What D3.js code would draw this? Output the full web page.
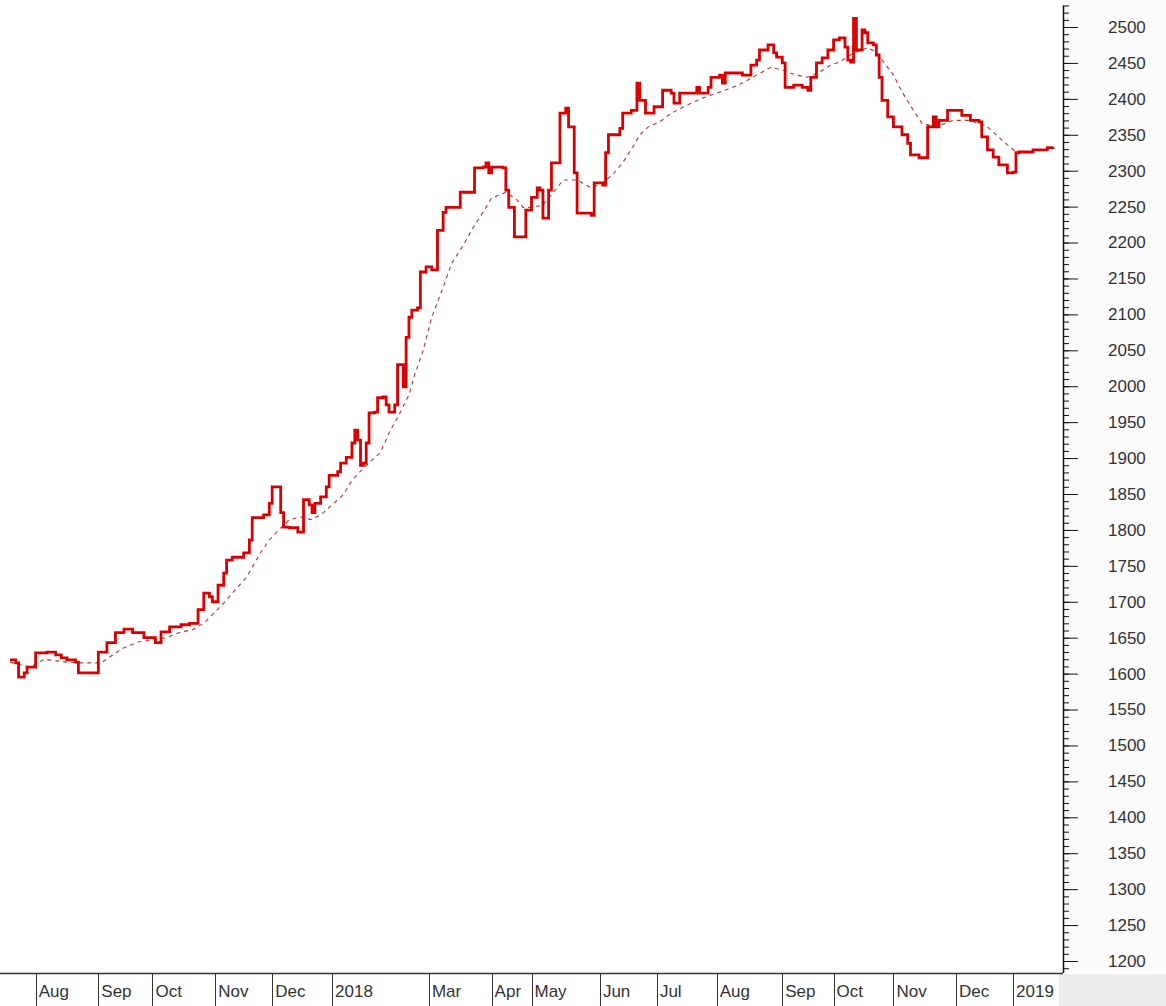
<!DOCTYPE html>
<html>
<head>
<meta charset="utf-8">
<script src="https://cdn.jsdelivr.net/npm/d3@7"></script>
<style>
  html, body { margin: 0; padding: 0; background: #ffffff; }
  svg { display: block; }
</style>
</head>
<body>
<svg id="chart" width="1166" height="1006"></svg>
<script>
// ---- data (trading-day index, value) ----
const priceDays = [0,2,3,5,6,9,13,16,18,20,23,24,29,31,34,37,40,43,47,51,53,56,60,63,66,68,70,71,73,75,76,78,82,84,85,89,91,92,94,95,96,98,101,103,105,106,107,109,111,112,115,116,118,120,121,122,123,124,125,126,128,129,131,132,133,135,136,138,139,140,141,143,144,146,148,150,152,153,158,162,163,166,167,168,169,171,173,174,175,177,180,181,183,185,186,187,188,189,190,192,193,195,196,198,199,204,205,208,209,210,214,215,218,220,221,223,226,229,232,233,235,241,242,245,246,249,250,251,257,260,262,263,266,268,269,271,272,275,278,280,281,283,285,287,289,291,293,294,295,296,297,299,300,301,303,304,305,306,308,310,313,315,316,319,322,324,325,326,329,334,337,340,341,343,345,347,350,352,353,354,359,364,366];
const priceVals = [1619,1615,1595,1601,1609,1629,1630,1626,1622,1619,1616,1601,1601,1630,1643,1657,1662,1657,1650,1643,1658,1665,1668,1670,1689,1712,1707,1700,1723,1740,1758,1762,1768,1786,1817,1821,1837,1860,1860,1824,1804,1803,1797,1842,1835,1824,1837,1846,1860,1876,1881,1893,1901,1921,1939,1925,1890,1893,1921,1963,1964,1984,1985,1974,1964,1974,2030,1999,2068,2096,2106,2109,2159,2166,2162,2217,2242,2249,2270,2270,2304,2305,2311,2297,2305,2305,2304,2273,2249,2208,2208,2245,2263,2276,2273,2234,2234,2273,2311,2311,2380,2387,2361,2297,2241,2238,2283,2280,2325,2350,2359,2380,2384,2422,2398,2380,2389,2412,2408,2394,2408,2416,2408,2416,2430,2433,2422,2436,2433,2447,2454,2468,2475,2464,2458,2450,2416,2419,2416,2412,2430,2450,2457,2468,2482,2485,2472,2454,2451,2512,2468,2496,2492,2478,2475,2461,2430,2398,2375,2361,2350,2338,2322,2318,2361,2375,2361,2370,2384,2377,2370,2368,2347,2329,2319,2308,2297,2298,2325,2326,2329,2332,2333];

const maDays = [0,7,12,20,25,32,36,40,45,50,55,60,64,68,71,75,78,83,86,88,91,95,98,102,106,110,113,117,120,125,130,133,137,140,142,145,148,152,155,159,163,166,169,174,178,180,183,187,189,192,194,199,204,208,212,215,219,221,224,228,232,239,243,248,253,257,262,267,271,276,280,284,288,291,296,301,304,306,310,313,317,320,325,331,337,343,346,350,353];
const maVals = [1616,1609,1620,1616,1615,1615,1626,1636,1644,1647,1650,1658,1661,1670,1682,1698,1712,1734,1755,1769,1786,1803,1814,1818,1814,1824,1835,1849,1869,1890,1908,1935,1964,1988,2016,2050,2096,2138,2171,2196,2224,2242,2262,2270,2259,2249,2249,2252,2262,2276,2287,2287,2276,2283,2297,2311,2336,2350,2361,2368,2380,2394,2401,2408,2415,2422,2433,2444,2440,2433,2430,2437,2447,2451,2464,2471,2465,2454,2433,2410,2384,2366,2361,2370,2370,2361,2350,2336,2326];

const monthLabels = ["Aug","Sep","Oct","Nov","Dec","2018","Mar","Apr","May","Jun","Jul","Aug","Sep","Oct","Nov","Dec","2019"];
const monthStartDays = [9,31,50,72,92,113,147,169,183,207,227,248,271,289,310,332,352];

const yMajorTicks = d3.range(1200, 2501, 50);
const yMinorTicks = d3.range(1190, 2531, 10);

// ---- layout ----
const W = 1166, H = 1006;
const axisX = 1063;
const stripTop = 973;

const svg = d3.select("#chart");

const x = d3.scaleLinear().domain([0, 366]).range([10, 1053]);
const y = d3.scaleLinear().domain([1200, 2500]).range([961, 27]);

// backgrounds
svg.append("rect").attr("x", 0).attr("y", 0).attr("width", W).attr("height", H).attr("fill", "#ffffff");
svg.append("rect").attr("x", axisX).attr("y", 0).attr("width", W - axisX).attr("height", stripTop).attr("fill", "#fbfbfb");

// moving average (dashed)
const maData = maDays.map((d, i) => ({ t: d, v: maVals[i] }));
svg.append("path")
  .datum(maData)
  .attr("fill", "none")
  .attr("stroke", "#b03535")
  .attr("stroke-width", 1.1)
  .attr("stroke-dasharray", "4,4")
  .attr("d", d3.line().x(d => x(d.t)).y(d => y(d.v)).curve(d3.curveLinear));

// price (step line)
const priceData = priceDays.map((d, i) => ({ t: d, v: priceVals[i] }));
svg.append("path")
  .datum(priceData)
  .attr("fill", "none")
  .attr("stroke", "#d80000")
  .attr("stroke-width", 2.8)
  .attr("stroke-linejoin", "miter")
  .attr("d", d3.line().x(d => x(d.t)).y(d => y(d.v)).curve(d3.curveStepAfter));

// right axis: minor ticks
const minorAxis = d3.axisRight(y).tickValues(yMinorTicks).tickSize(6).tickFormat("");
const gMinor = svg.append("g").attr("transform", `translate(${axisX},0)`).call(minorAxis);
gMinor.select(".domain").remove();
gMinor.selectAll("line").attr("stroke", "#111").attr("stroke-width", 1);

// right axis: major ticks + labels
const majorAxis = d3.axisRight(y).tickValues(yMajorTicks).tickSize(15).tickPadding(30).tickFormat(d3.format("d"));
const gMajor = svg.append("g").attr("transform", `translate(${axisX},0)`).call(majorAxis);
gMajor.select(".domain").remove();
gMajor.selectAll("line").attr("stroke", "#111").attr("stroke-width", 1);
gMajor.selectAll("text")
  .attr("fill", "#333")
  .style("font-family", "Liberation Sans, Arial, sans-serif")
  .style("font-size", "17px");

// axis line
svg.append("line")
  .attr("x1", axisX + 0.5).attr("x2", axisX + 0.5)
  .attr("y1", y(2530)).attr("y2", stripTop)
  .attr("stroke", "#111").attr("stroke-width", 1.5);

// bottom strip
const months = monthLabels.map((m, i) => ({ label: m, t: monthStartDays[i] }));
const gMonths = svg.append("g");
gMonths.selectAll("text")
  .data(months)
  .join("text")
  .attr("x", d => x(d.t) + 3)
  .attr("y", 997)
  .attr("fill", "#333")
  .style("font-family", "Liberation Sans, Arial, sans-serif")
  .style("font-size", "17px")
  .text(d => d.label);

gMonths.selectAll("line.sep")
  .data(months)
  .join("line")
  .attr("class", "sep")
  .attr("x1", d => Math.round(x(d.t)) + 0.5)
  .attr("x2", d => Math.round(x(d.t)) + 0.5)
  .attr("y1", stripTop)
  .attr("y2", H)
  .attr("stroke", "#333")
  .attr("stroke-width", 1);

// bottom-right grey panel (covers overflow of the last label)
svg.append("rect").attr("x", axisX - 4).attr("y", stripTop + 1).attr("width", W - axisX + 4).attr("height", H - stripTop).attr("fill", "#eeeeee");

svg.append("line")
  .attr("x1", 0).attr("x2", axisX)
  .attr("y1", stripTop + 0.5).attr("y2", stripTop + 0.5)
  .attr("stroke", "#333").attr("stroke-width", 1.5);
</script>
</body>
</html>
